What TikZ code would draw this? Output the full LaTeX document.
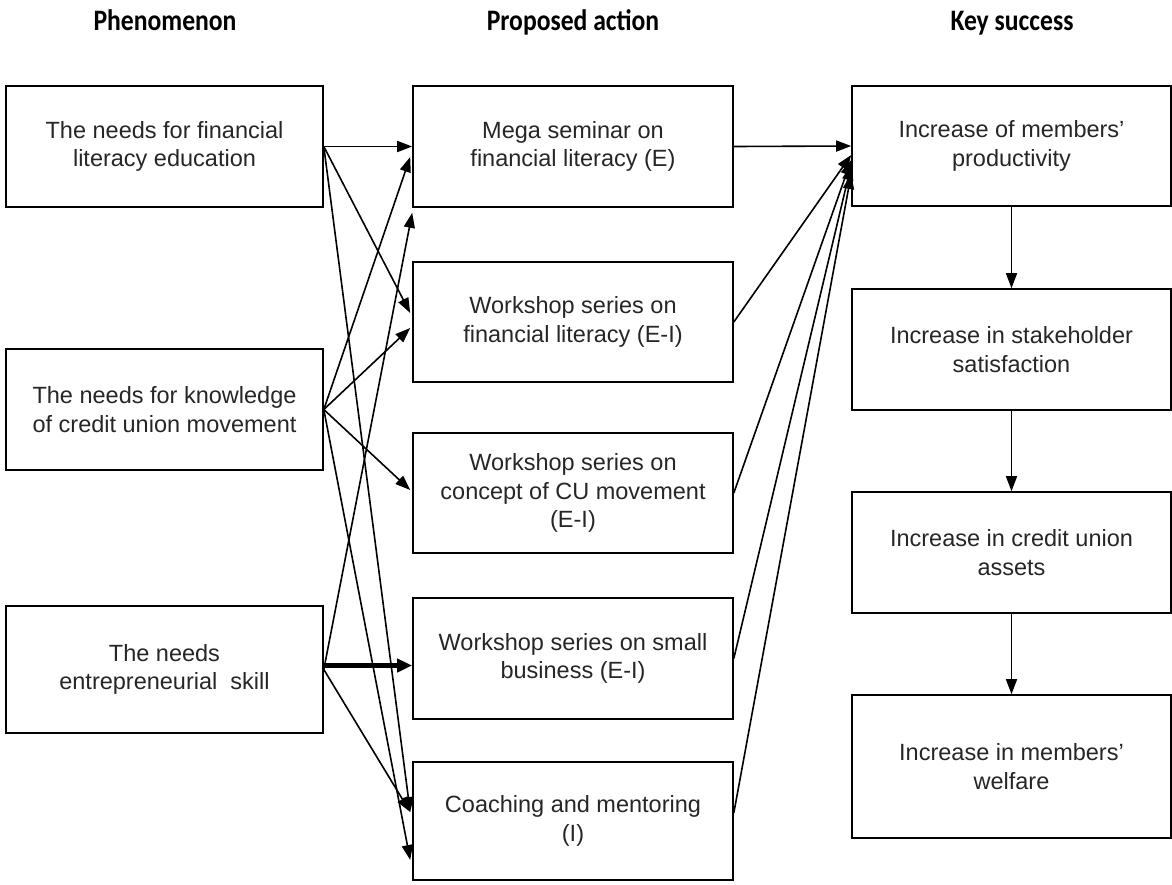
\documentclass[tikz,border=0pt]{standalone}
\usepackage{fontspec}
\setmainfont{Liberation Sans}
\newfontfamily\headfont{Carlito}
\usetikzlibrary{arrows.meta}
\begin{document}
\begin{tikzpicture}[x=1pt,y=-1pt,
  box/.style={draw, line width=1.6pt, minimum width=317pt, minimum height=121pt,
    align=center, inner sep=0pt, text=black!85,
    font=\fontsize{23.5}{28.5}\selectfont},
  head/.style={font=\headfont\bfseries\fontsize{27}{32}\selectfont, anchor=base},
  link/.style={line width=1.6pt, -{Triangle[length=15pt,width=11pt]}},
  boldlink/.style={line width=4.5pt, -{Triangle[length=15pt,width=13pt]}}]
\useasboundingbox (0,0) rectangle (1172,884);

% column headings
\node[head] (h1) at (165,30) {\scalebox{0.95}[1.1]{Phenomenon}};
\node[head] (h2) at (573,30) {\scalebox{0.95}[1.1]{Proposed action}};
\node[head] (h3) at (1012,30) {\scalebox{0.95}[1.1]{Key success}};

% phenomena
\node[box] (l1) at (164.5,146.5) {The needs for financial\\literacy education};
\node[box] (l2) at (164.5,409.5) {The needs for knowledge\\of credit union movement};
\node[box, minimum height=127pt] (l3) at (164.5,669.5) {The needs\\entrepreneurial~~skill};

% proposed actions
\node[box, minimum width=320pt] (m1) at (573,146.5) {Mega seminar on\\financial literacy (E)};
\node[box, minimum width=320pt, minimum height=120pt] (m2) at (573,322) {Workshop series on\\financial literacy (E-I)};
\node[box, minimum width=320pt, minimum height=120pt] (m3) at (573,493) {Workshop series on\\concept of CU movement\\(E-I)};
\node[box, minimum width=320pt] (m4) at (573,658.5) {Workshop series on small\\business (E-I)};
\node[box, minimum width=320pt, minimum height=118pt] (m5) at (573,821) {Coaching and mentoring\\(I)};

% key successes
\node[box, minimum width=319pt, minimum height=120pt] (r1) at (1011.5,146) {Increase of members’\\productivity};
\node[box, minimum width=319pt] (r2) at (1011.5,349.5) {Increase in stakeholder\\satisfaction};
\node[box, minimum width=319pt] (r3) at (1011.5,552.5) {Increase in credit union\\assets};
\node[box, minimum width=319pt, minimum height=143pt] (r4) at (1011.5,766.5) {Increase in members’\\welfare};

% phenomena -> actions
\draw[link] (l1.east) -- (m1.west);
\draw[link] (l1.east) -- ([xshift=-2pt,yshift=9pt]m2.west);
\draw[link] (l1.east) -- ([xshift=-2pt,yshift=9pt]m5.west);
\draw[link] (l2.east) -- ([xshift=-2pt,yshift=-10.5pt]m1.west);
\draw[link] (l2.east) -- ([xshift=-2pt,yshift=-6pt]m2.west);
\draw[link] (l2.east) -- ([xshift=-2pt,yshift=3pt]m3.west);
\draw[link] (l2.east) -- ([xshift=-2pt,yshift=-39pt]m5.west);
\draw[link] (l3.east) -- ([yshift=-5pt]m1.south west);
\draw[boldlink] ([yshift=4pt]l3.east) -- ([yshift=4pt]l3.east -| m4.west);
\draw[link] (l3.east) -- ([xshift=-2pt,yshift=9pt]m5.west);

% actions -> first key success
\draw[link] (m1.east) -- (r1.west);
\draw[link] (m2.east) -- ([yshift=-9pt]r1.west);
\draw[link] (m3.east) -- ([yshift=-14pt]r1.west);
\draw[link] (m4.east) -- ([yshift=-19pt]r1.west);
\draw[link] ([yshift=8pt]m5.east) -- ([yshift=-28pt]r1.west);

% chain of key successes
\draw[link] (r1.south) -- (r2.north);
\draw[link] (r2.south) -- (r3.north);
\draw[link] (r3.south) -- (r4.north);
\end{tikzpicture}
\end{document}
